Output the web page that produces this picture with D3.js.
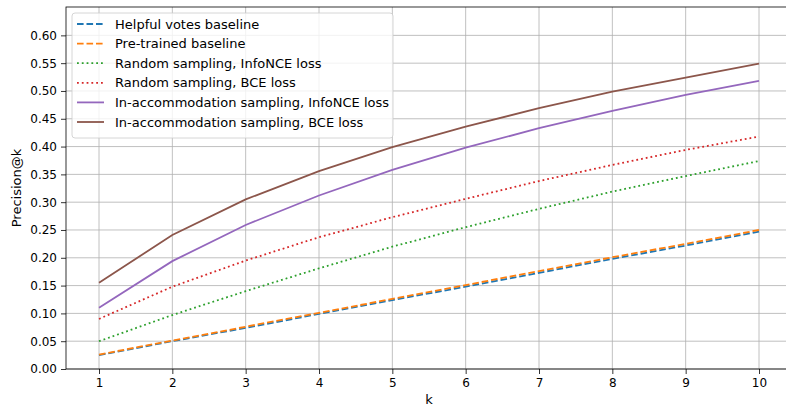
<!DOCTYPE html>
<html><head><meta charset="utf-8">
<script src="https://cdn.jsdelivr.net/npm/d3@7"></script>
<style>body{margin:0;background:#fff}svg{display:block}text{font-family:"DejaVu Sans",sans-serif;fill:#000}</style>
</head><body><svg id="c" width="786" height="407"></svg>
<script>
const ks = [1,2,3,4,5,6,7,8,9,10];
const seriesNames = ["Helpful votes baseline","Pre-trained baseline","Random sampling, InfoNCE loss","Random sampling, BCE loss","In-accommodation sampling, InfoNCE loss","In-accommodation sampling, BCE loss"];
const helpfulVotes = [0.025,0.050,0.074,0.099,0.124,0.148,0.173,0.198,0.222,0.247];
const preTrained   = [0.026,0.051,0.076,0.101,0.126,0.151,0.176,0.201,0.225,0.250];
const randomInfoNCE= [0.050,0.097,0.140,0.181,0.220,0.255,0.288,0.319,0.347,0.374];
const randomBCE    = [0.090,0.148,0.195,0.237,0.273,0.306,0.338,0.367,0.394,0.418];
const inAccInfoNCE = [0.110,0.194,0.259,0.312,0.358,0.398,0.433,0.464,0.493,0.518];
const inAccBCE     = [0.155,0.241,0.305,0.356,0.399,0.436,0.469,0.499,0.524,0.549];
const yTicks = [0,0.05,0.1,0.15,0.2,0.25,0.3,0.35,0.4,0.45,0.5,0.55,0.6];

const colors = ["#1f77b4","#ff7f0e","#2ca02c","#d62728","#9467bd","#8c564b"];
const dashes = ["6.6,2.9","6.6,2.9","1.8,3","1.8,3",null,null];
const allSeries = [helpfulVotes,preTrained,randomInfoNCE,randomBCE,inAccInfoNCE,inAccBCE];

const svg = d3.select("#c");
const L=66, R=792, T=7, B=369;
const x = d3.scaleLinear().domain([0.55,10.45]).range([L,R]);
const y = d3.scaleLinear().domain([0,0.651]).range([B,T]);

// grid
const g = svg.append("g");
g.selectAll(".gx").data(ks).enter().append("line")
  .attr("x1",d=>x(d)).attr("x2",d=>x(d)).attr("y1",T).attr("y2",B)
  .attr("stroke","#b0b0b0").attr("stroke-width",0.8);
g.selectAll(".gy").data(yTicks).enter().append("line")
  .attr("x1",L).attr("x2",R).attr("y1",d=>y(d)).attr("y2",d=>y(d))
  .attr("stroke","#b0b0b0").attr("stroke-width",0.8);

// lines
const line = d3.line().x((d,i)=>x(ks[i])).y(d=>y(d));
allSeries.forEach((s,i)=>{
  svg.append("path").datum(s).attr("d",line).attr("fill","none")
    .attr("stroke",colors[i]).attr("stroke-width",1.8)
    .attr("stroke-dasharray",dashes[i]);
});

// axes
const xAxis = d3.axisBottom(x).tickValues(ks).tickSize(5).tickPadding(4).tickFormat(d3.format("d"));
const yAxis = d3.axisLeft(y).tickValues(yTicks).tickSize(5).tickPadding(4).tickFormat(d3.format(".2f"));
const ax = svg.append("g").attr("transform",`translate(0,${B})`).call(xAxis);
const ay = svg.append("g").attr("transform",`translate(${L},0)`).call(yAxis);
[ax,ay].forEach(a=>{
  a.select(".domain").remove();
  a.selectAll("line").attr("stroke","#000").attr("stroke-width",0.8);
  a.selectAll("text").attr("font-size",12).attr("font-family","DejaVu Sans").attr("fill","#000");
});
// spines
svg.append("rect").attr("x",L).attr("y",T).attr("width",R-L).attr("height",B-T)
  .attr("fill","none").attr("stroke","#000").attr("stroke-width",0.8);

// labels
svg.append("text").attr("x",x(5.5)).attr("y",404).attr("text-anchor","middle").attr("font-size",13).text("k");
svg.append("text").attr("transform",`translate(21,${(T+B)/2}) rotate(-90)`).attr("text-anchor","middle").attr("font-size",13).text("Precision@k");

// legend
const lg = svg.append("g");
lg.append("rect").attr("x",72).attr("y",13).attr("width",321).attr("height",125).attr("rx",3)
  .attr("fill","#fff").attr("fill-opacity",0.8).attr("stroke","#ccc").attr("stroke-width",0.8);
seriesNames.forEach((n,i)=>{
  const yy = 24 + i*19.6;
  lg.append("line").attr("x1",77).attr("x2",104).attr("y1",yy).attr("y2",yy)
    .attr("stroke",colors[i]).attr("stroke-width",1.8).attr("stroke-dasharray",dashes[i]);
  lg.append("text").attr("x",115).attr("y",yy+4.6).attr("font-size",13).text(n);
});
</script></body></html>
